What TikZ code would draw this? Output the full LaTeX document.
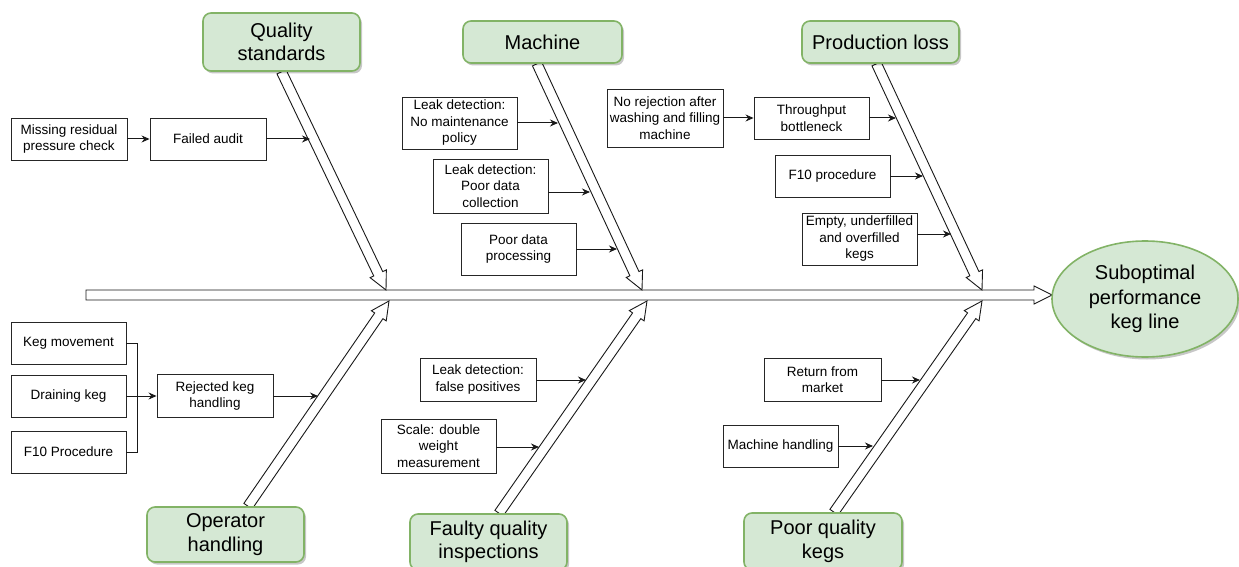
\documentclass[tikz,border=0pt]{standalone}
\usepackage{fontspec}
\setmainfont{Liberation Sans}
\usetikzlibrary{calc,shapes.geometric,arrows.meta,shadows,backgrounds}
\definecolor{catfill}{HTML}{D5E8D4}
\definecolor{catline}{HTML}{82B366}
\tikzset{
  cause/.style={draw=black!85, line width=0.9pt, fill=white, align=center, inner sep=1pt,
    font=\fontsize{13.5}{16.5}\selectfont},
  category/.style={draw=catline, fill=catfill, line width=1.6pt, rounded corners=8pt,
    align=center, inner sep=1pt, font=\fontsize{20}{23.5}\selectfont,
    drop shadow={shadow xshift=2pt, shadow yshift=-2.5pt, opacity=0.22, fill=black}},
  effect/.style={ellipse, draw=catline, fill=catfill, line width=1.6pt, align=center,
    inner sep=0pt, font=\fontsize{20}{24.3}\selectfont,
    drop shadow={shadow xshift=2pt, shadow yshift=-2.5pt, opacity=0.22, fill=black}},
  link/.style={draw=black!90, line width=1pt, -{Stealth[length=8pt,width=7pt]}},
  plainlink/.style={draw=black!90, line width=1pt},
  flex/.style={draw=black!90, fill=white, line width=0.9pt, line join=miter},
}
% hollow block arrow: body half-width 5, head half-width 9, head length 18
\newcommand{\flexarrow}[2]{%
  \coordinate (fxh) at ($(#2)!18pt!(#1)$);
  \path[flex] ($(#1)!5pt!90:(#2)$) -- ($(fxh)!5pt!-90:(#1)$) -- ($(fxh)!9pt!-90:(#1)$)
    -- (#2) -- ($(fxh)!9pt!90:(#1)$) -- ($(fxh)!5pt!90:(#1)$)
    -- ($(#1)!5pt!-90:(#2)$) -- cycle;}
\begin{document}
\begin{tikzpicture}[x=1pt,y=-1pt]
\useasboundingbox (0,0) rectangle (1239,567);

% effect
\node[effect, minimum width=186pt, minimum height=116pt] (ell) at (1145,299)
  {Suboptimal\\performance\\keg line};

% main categories
\node[category, minimum width=157pt, minimum height=58pt] (qs) at (281.5,42) {Quality\\standards};
\node[category, minimum width=159pt, minimum height=42pt] (ma) at (542.5,42) {Machine};
\node[category, minimum width=157pt, minimum height=42pt] (pl) at (880.5,42) {Production loss};
\node[category, minimum width=157pt, minimum height=55pt] (oh) at (225.5,534.5) {Operator\\handling};
\node[category, minimum width=157pt, minimum height=56pt] (fq) at (488.5,542) {Faulty quality\\inspections};
\node[category, minimum width=158pt, minimum height=57pt] (pq) at (823,541.5) {Poor quality\\kegs};

% spine and category arrows
\coordinate (spS) at (86,295);
\coordinate (spE) at (1052,295);
\coordinate (qsT) at (386,290);
\coordinate (maT) at (642,290);
\coordinate (plT) at (982,290);
\coordinate (ohT) at (389,301);
\coordinate (fqT) at (647,301);
\coordinate (pqT) at (982,301);
\coordinate (qsS) at (qs.south);
\coordinate (maS) at ($(ma.south)+(-5.5,0)$);
\coordinate (plS) at ($(pl.south)+(-4,0)$);
\coordinate (ohS) at ($(oh.north)+(22.5,0)$);
\coordinate (fqS) at ($(fq.north)+(10.5,0)$);
\coordinate (pqS) at ($(pq.north)+(11,0)$);
\begin{scope}[on background layer]
  \flexarrow{spS}{spE}
  \flexarrow{qsS}{qsT}
  \flexarrow{maS}{maT}
  \flexarrow{plS}{plT}
  \flexarrow{ohS}{ohT}
  \flexarrow{fqS}{fqT}
  \flexarrow{pqS}{pqT}
\end{scope}

% quality standards causes
\node[cause, minimum width=116pt, minimum height=42pt] (mrp) at (69,139) {Missing residual\\pressure check};
\node[cause, minimum width=116pt, minimum height=42pt] (fa) at (208,139) {Failed audit};
\coordinate (faT) at (310,139);
\draw[link] (mrp.east) -- (fa.west);
\draw[link] (fa.east) -- (faT);

% operator handling causes
\node[cause, minimum width=115pt, minimum height=42pt] (km) at (68.5,343) {Keg movement};
\node[cause, minimum width=115pt, minimum height=42pt] (dk) at (68.5,396) {Draining keg};
\node[cause, minimum width=115pt, minimum height=42pt] (f10a) at (68.5,452) {F10 Procedure};
\node[cause, minimum width=116pt, minimum height=43pt] (rk) at (215,396) {Rejected keg\\handling};
\coordinate (jn) at (137,396);
\coordinate (rkT) at (318,396);
\draw[plainlink] (km.east) -| (jn);
\draw[plainlink] (f10a.east) -| (jn);
\draw[link] (dk.east) -- (rk.west);
\draw[link] (rk.east) -- (rkT);

% machine causes
\node[cause, minimum width=115pt, minimum height=52pt] (ld1) at (459.5,123) {Leak detection:\\No maintenance\\policy};
\node[cause, minimum width=115pt, minimum height=54pt] (ld2) at (490.5,186) {Leak detection:\\Poor data\\collection};
\node[cause, minimum width=115pt, minimum height=52pt] (pdp) at (518.5,249) {Poor data\\processing};
\coordinate (ld1T) at (558,123);
\coordinate (ld2T) at (590,192);
\coordinate (pdpT) at (617,249);
\draw[link] (ld1T -| ld1.east) -- (ld1T);
\draw[link] (ld2T -| ld2.east) -- (ld2T);
\draw[link] (pdpT -| pdp.east) -- (pdpT);

% production loss causes
\node[cause, minimum width=116pt, minimum height=58pt] (nr) at (665,118) {No rejection after\\washing and filling\\machine};
\node[cause, minimum width=115pt, minimum height=42pt] (tb) at (811.5,118) {Throughput\\bottleneck};
\node[cause, minimum width=115pt, minimum height=42pt] (f10b) at (832.5,176) {F10 procedure};
\node[cause, minimum width=115pt, minimum height=52pt] (euo) at (859.5,239) {Empty, underfilled\\and overfilled\\kegs};
\coordinate (tbT) at (896,118);
\coordinate (f10bT) at (923,176);
\coordinate (euoT) at (951,234);
\draw[link] (nr.east) -- (tb.west);
\draw[link] (tb.east) -- (tbT);
\draw[link] (f10bT -| f10b.east) -- (f10bT);
\draw[link] (euoT -| euo.east) -- (euoT);

% faulty quality inspection causes
\node[cause, minimum width=116pt, minimum height=43pt] (ldf) at (478,379.5) {Leak detection:\\false positives};
\node[cause, minimum width=115pt, minimum height=54pt] (sdw) at (438.5,446) {Scale: double\\weight\\measurement};
\coordinate (ldfT) at (586,380);
\coordinate (sdwT) at (539,447);
\draw[link] (ldfT -| ldf.east) -- (ldfT);
\draw[link] (sdwT -| sdw.east) -- (sdwT);

% poor quality keg causes
\node[cause, minimum width=117pt, minimum height=43pt] (rfm) at (822.5,379.5) {Return from\\market};
\node[cause, minimum width=115pt, minimum height=42pt] (mh) at (780.5,446) {Machine handling};
\coordinate (rfmT) at (920,380);
\coordinate (mhT) at (873,446);
\draw[link] (rfmT -| rfm.east) -- (rfmT);
\draw[link] (mhT -| mh.east) -- (mhT);
\end{tikzpicture}
\end{document}
